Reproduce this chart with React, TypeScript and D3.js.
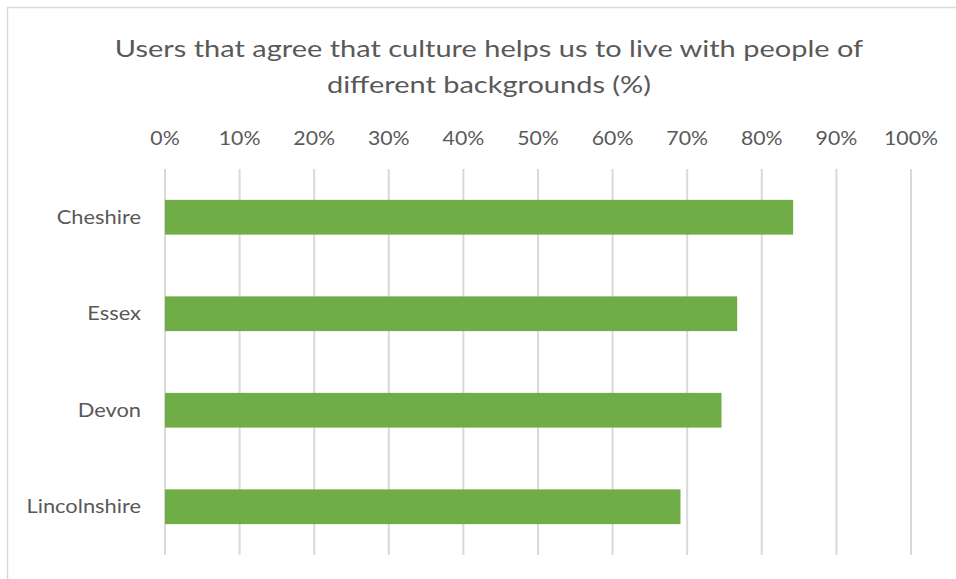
import React from "react";
import * as d3 from "d3";

const categories = ["Cheshire", "Essex", "Devon", "Lincolnshire"];
const values = [84.2, 76.7, 74.6, 69.1];
const ticks = [0, 10, 20, 30, 40, 50, 60, 70, 80, 90, 100];
const titleLines = [
  "Users that agree that culture helps us to live with people of",
  "different backgrounds (%)",
];

const W = 956;
const H = 579;
const FONT = "Lato, 'Open Sans', sans-serif";
const TEXT = "#595959";

function SText(props: {
  x: number;
  y: number;
  sx: number;
  size: number;
  anchor: string;
  dy?: string;
  children: React.ReactNode;
}) {
  return (
    <text
      transform={`translate(${props.x},${props.y}) scale(${props.sx},1)`}
      textAnchor={props.anchor}
      fontSize={props.size}
      dy={props.dy}
      fill={TEXT}
    >
      {props.children}
    </text>
  );
}

export default function App() {
  const x = d3.scaleLinear().domain([0, 100]).range([165, 911]);
  const y = d3
    .scaleBand<string>()
    .domain(categories)
    .range([169, 555])
    .paddingInner(0.64)
    .paddingOuter(0.32);

  return (
    <svg
      width={W}
      height={H}
      style={{ position: "absolute", left: 0, top: 0, background: "#fff" }}
      fontFamily={FONT}
    >
      <rect x={7.5} y={7.5} width={W + 10} height={H + 10} fill="#fff" stroke="#d9d9d9" strokeWidth={1.5} />
      {titleLines.map((t, i) => (
        <SText key={i} x={489} y={57 + i * 36} sx={1.26} size={23} anchor="middle">
          {t}
        </SText>
      ))}
      {ticks.map((t) => (
        <g key={t}>
          <line x1={x(t)} x2={x(t)} y1={169} y2={555} stroke="#d9d9d9" strokeWidth={2} />
          <SText x={x(t)} y={144.5} sx={1.12} size={19} anchor="middle">
            {t + "%"}
          </SText>
        </g>
      ))}
      {categories.map((c, i) => (
        <g key={c}>
          <rect
            x={x(0)}
            y={y(c)!}
            width={x(values[i]) - x(0)}
            height={y.bandwidth()}
            fill="#70ad47"
          />
          <SText
            x={141}
            y={y(c)! + y.bandwidth() / 2}
            dy="0.35em"
            sx={1.15}
            size={19}
            anchor="end"
          >
            {c}
          </SText>
        </g>
      ))}
    </svg>
  );
}
